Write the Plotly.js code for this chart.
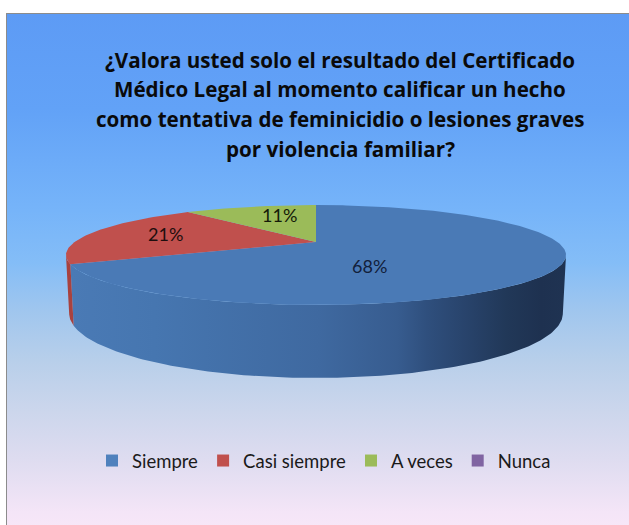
<!DOCTYPE html>
<html>
<head>
<meta charset="utf-8">
<script src="https://cdn.plot.ly/plotly-3.0.1.min.js"></script>
<style>
  html, body { margin:0; padding:0; background:#ffffff; overflow:hidden; }
  #frame {
    position:absolute; left:6px; top:13px; width:640px; height:530px;
    border-left:1px solid #8c8c8c; border-top:1px solid #8c8c8c;
    background:linear-gradient(to bottom,
      #5d9bf5 0%, #62a2f7 18%, #76b4f9 37%, #84bdf7 47%, #a0c6ee 56%,
      #b8cfea 65.5%, #ccd6ec 75%, #dedcf0 84%, #f4e5f7 94%, #fbe8f8 100%);
  }
  #chart { position:absolute; left:0; top:0; width:629px; height:525px; }
</style>
</head>
<body>
<div id="frame"></div>
<div id="chart"></div>
<script>
// ---- data ----
const categories = ['Siempre', 'Casi siempre', 'A veces', 'Nunca'];
const percentages = [68, 21, 11, 0];
const percentLabels = ['68%', '21%', '11%', '0%'];
const titleLines = [
  '¿Valora usted solo el resultado del Certificado',
  'Médico Legal al momento calificar un hecho',
  'como tentativa de feminicidio o lesiones graves',
  'por violencia familiar?'
];

// ---- styles ----
const topColors = ['#4A7AB6', '#C0504D', '#9BBB59', '#8064A2'];
const legendColors = ['#4F81BD', '#C0504D', '#9BBB59', '#8064A2'];
const wallColors = ['#4A7AB5', '#A8423F', '#86A24A', '#6C5490'];
const blueWallScale = [
  [0, '#4A7AB5'], [0.17, '#4676B0'], [0.5, '#3F69A0'], [0.66, '#375C8F'],
  [0.72, '#2F4F7D'], [0.8, '#28436B'], [0.88, '#213858'], [0.95, '#1E3150'], [1, '#1F3352']
];
const labelColors = ['#12203a', '#1e0e0e', '#141a08', '#111111'];
// label anchor (pixel coordinates of label centres, layout only)
const labelAnchors = [[369, 266], [165.5, 234], [279.5, 214.5], null];

// ---- 3D pie geometry (perspective projection of a flat cylinder) ----
const G = {cx: 316, cy: 242, F: 910.8, d: 3.773, sa: 0.193, h: 0.235};
G.ca = Math.sqrt(1 - G.sa * G.sa);

function proj(thDeg, r, bottom) {
  const t = thDeg * Math.PI / 180;
  const X = r * Math.cos(t), Z = r * Math.sin(t), Y = bottom ? -G.h : 0;
  const depth = G.d - Y * G.sa + Z * G.ca;
  const up = Y * G.ca + Z * G.sa;
  return [G.cx + G.F * X / depth, G.cy - G.F * up / depth];
}

// slice angles: start at 12 o'clock, clockwise
const total = percentages.reduce((a, b) => a + b, 0);
let cum = 0;
const sliceAngles = percentages.map(p => {
  const end = 90 - cum / total * 360;
  cum += p;
  const start = 90 - cum / total * 360;
  return [start, end];
});

// visible outer wall: sin(theta) < -1/(d*cos(alpha))
const vis = Math.asin(1 / (G.d * G.ca)) * 180 / Math.PI;
const visRange = [-180 + vis, -vis];

function intersect(a, b) {
  for (let k = -2; k <= 2; k++) {
    const lo = Math.max(a, visRange[0] + 360 * k);
    const hi = Math.min(b, visRange[1] + 360 * k);
    if (hi > lo) return [lo, hi];
  }
  return null;
}
function arc(a, b, r, bottom) {
  const pts = [];
  const n = Math.max(2, Math.ceil(Math.abs(b - a)));
  for (let i = 0; i <= n; i++) pts.push(proj(a + (b - a) * i / n, r, bottom));
  return pts;
}

const traces = [];
// walls first
sliceAngles.forEach((ang, i) => {
  if (percentages[i] <= 0) return;
  const iv = intersect(ang[0], ang[1]);
  if (!iv) return;
  const topPts = arc(iv[0], iv[1], 1, false);
  const botPts = arc(iv[1], iv[0], 1, true);
  const pts = topPts.concat(botPts);
  pts.push(pts[0]);
  const xs = pts.map(p => p[0]), ys = pts.map(p => p[1]);
  const tr = {
    type: 'scatter', mode: 'lines', x: xs, y: ys, fill: 'toself',
    fillcolor: wallColors[i], line: {width: 0, color: wallColors[i]},
    hoverinfo: 'skip', showlegend: false
  };
  if (i === 0) {
    tr.fillgradient = {type: 'horizontal', colorscale: blueWallScale,
      start: Math.min(...xs), stop: Math.max(...xs)};
  }
  traces.push(tr);
});
// top faces
sliceAngles.forEach((ang, i) => {
  if (percentages[i] <= 0) return;
  const apex = proj(0, 0, false);
  const pts = [apex].concat(arc(ang[0], ang[1], 1, false));
  pts.push(apex);
  traces.push({
    type: 'scatter', mode: 'lines', x: pts.map(p => p[0]), y: pts.map(p => p[1]),
    fill: 'toself', fillcolor: topColors[i], line: {width: 0, color: topColors[i]},
    name: categories[i], text: percentLabels[i], hoverinfo: 'name+text', showlegend: false
  });
});
// legend entries
categories.forEach((c, i) => {
  traces.push({
    type: 'scatter', mode: 'markers', x: [null], y: [null], name: c,
    marker: {symbol: 'square', size: 12, color: legendColors[i]}, hoverinfo: 'skip'
  });
});

const annotations = [];
titleLines.forEach((t, i) => {
  annotations.push({
    text: t, x: 340, y: 59.5 + 29.7 * i, xref: 'x', yref: 'y',
    xanchor: 'center', yanchor: 'middle', showarrow: false,
    font: {family: '"Open Sans", Lato, sans-serif', size: 20.6, color: '#0a0a0a', weight: 'bold'}
  });
});
percentLabels.forEach((t, i) => {
  if (!labelAnchors[i] || percentages[i] <= 0) return;
  annotations.push({
    text: t, x: labelAnchors[i][0], y: labelAnchors[i][1], xref: 'x', yref: 'y',
    xanchor: 'center', yanchor: 'middle', showarrow: false,
    font: {family: 'Lato, "Open Sans", sans-serif', size: 18, color: labelColors[i]}
  });
});

const layout = {
  width: 629, height: 525,
  margin: {l: 0, r: 0, t: 0, b: 0, pad: 0},
  paper_bgcolor: 'rgba(0,0,0,0)', plot_bgcolor: 'rgba(0,0,0,0)',
  xaxis: {range: [0, 629], visible: false, fixedrange: true},
  yaxis: {range: [525, 0], visible: false, fixedrange: true},
  showlegend: true,
  legend: {
    orientation: 'h', x: 92 / 629, xanchor: 'left', y: 1 - 461 / 525, yanchor: 'middle',
    font: {family: 'Lato, "Open Sans", sans-serif', size: 18.5, color: '#1a1a1a'},
    bgcolor: 'rgba(0,0,0,0)', borderwidth: 0, itemclick: false, itemdoubleclick: false
  },
  annotations: annotations
};

Plotly.newPlot('chart', traces, layout, {displayModeBar: false, staticPlot: true});
</script>
</body>
</html>
